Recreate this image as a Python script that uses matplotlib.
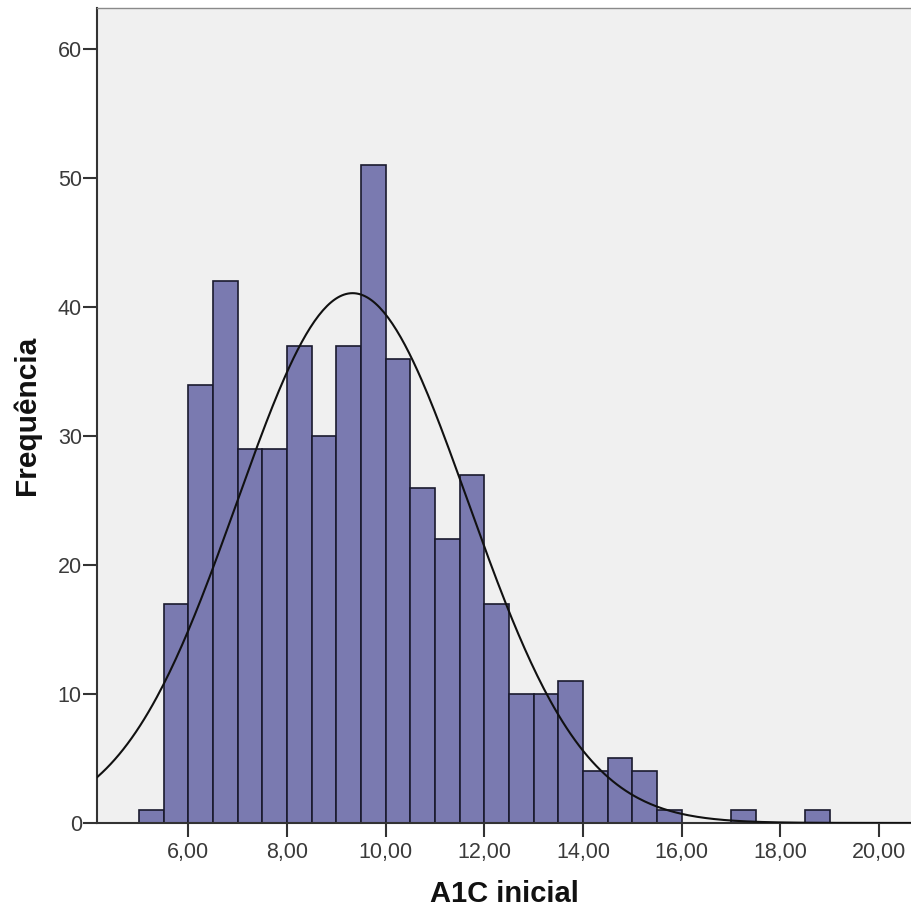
import numpy as np
import matplotlib.pyplot as plt

plt.rcParams['font.family'] = ['Liberation Sans', 'DejaVu Sans']

# histogram bins (width 0.5) and counts
bin_left = [5.0, 5.5, 6.0, 6.5, 7.0, 7.5, 8.0, 8.5, 9.0, 9.5, 10.0, 10.5,
            11.0, 11.5, 12.0, 12.5, 13.0, 13.5, 14.0, 14.5, 15.0, 15.5,
            16.0, 16.5, 17.0, 17.5, 18.0, 18.5]
counts = [1, 17, 34, 42, 29, 29, 37, 30, 37, 51, 36, 26,
          22, 27, 17, 10, 10, 11, 4, 5, 4, 1,
          0, 0, 1, 0, 0, 1]
bin_width = 0.5

# normal curve parameters (mean / std dev of the sample)
mean = 9.33
std = 2.34

xticks = [6, 8, 10, 12, 14, 16, 18, 20]
xticklabels = ['6,00', '8,00', '10,00', '12,00', '14,00', '16,00', '18,00', '20,00']
yticks = [0, 10, 20, 30, 40, 50, 60]

fig = plt.figure(figsize=(9.12, 9.14), dpi=100)
ax = fig.add_axes([0.1064, 0.0996, 0.8936, 0.8916])
ax.set_facecolor('#f0f0f0')

ax.bar(bin_left, counts, width=bin_width, align='edge', color='#7a7ab0',
       edgecolor='#1a1a2e', linewidth=1.2, zorder=2)

n = sum(counts)
xs = np.linspace(4.0, 21.0, 400)
ys = n * bin_width / (std * np.sqrt(2 * np.pi)) * np.exp(-0.5 * ((xs - mean) / std) ** 2)
ax.plot(xs, ys, color='#111111', linewidth=1.5, zorder=3)

ax.set_xlim(4.15, 20.67)
ax.set_ylim(0, 63.2)
ax.set_xticks(xticks)
ax.set_xticklabels(xticklabels)
ax.set_yticks(yticks)

ax.tick_params(axis='both', direction='out', length=10, width=1.5,
               color='#333333', labelsize=15.5, labelcolor='#3a3a3a')
ax.tick_params(axis='x', pad=4)
ax.tick_params(axis='y', pad=1)

for side in ['left', 'bottom']:
    ax.spines[side].set_color('#333333')
    ax.spines[side].set_linewidth(1.5)
for side in ['top', 'right']:
    ax.spines[side].set_color('#8a8a8a')
    ax.spines[side].set_linewidth(1.0)

ax.set_xlabel('A1C inicial', fontsize=21, fontweight='bold', labelpad=12, color='#111111')
ax.set_ylabel('Frequência', fontsize=21.5, fontweight='bold', labelpad=12, color='#111111')

fig.savefig('out.png', dpi=100)
